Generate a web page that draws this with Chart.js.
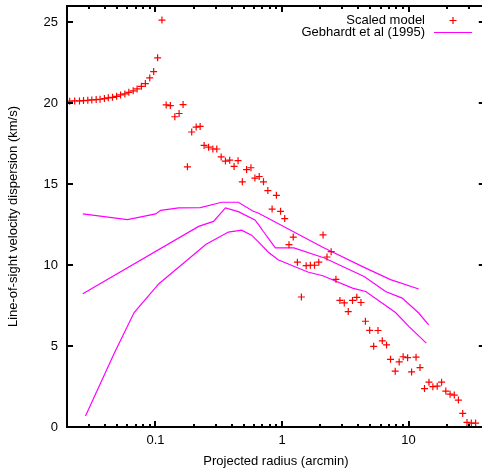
<!DOCTYPE html>
<html>
<head>
<meta charset="utf-8">
<script src="https://cdn.jsdelivr.net/npm/chart.js@4/dist/chart.umd.min.js"></script>
<style>
  html, body { margin: 0; padding: 0; background: #fff; overflow: hidden; }
  #wrap { width: 490px; height: 470px; }
</style>
</head>
<body>
<div id="wrap"><canvas id="sigmaPlot" width="490" height="470"></canvas></div>
<script>
// Scaled model: projected radius (arcmin) and dispersion (km/s)
const modelRadius = [
  0.0210, 0.0230, 0.0251, 0.0270, 0.0292, 0.0314, 0.0340, 0.0365, 0.0395, 0.0424,
  0.0458, 0.0493, 0.0530, 0.0573, 0.0616, 0.0667, 0.0716, 0.0774, 0.0832, 0.0901,
  0.0968, 0.104, 0.1125,
  0.1215, 0.1311, 0.1422, 0.1537, 0.1652, 0.1789, 0.1933, 0.2097, 0.2254, 0.2423,
  0.2628, 0.2840, 0.3052, 0.3305, 0.3572, 0.3860, 0.4180, 0.4494, 0.4857, 0.5248,
  0.5682, 0.6107, 0.6603, 0.7136, 0.7725, 0.8347, 0.9022, 0.9733, 1.050, 1.135,
  1.226, 1.323, 1.422, 1.551, 1.673, 1.805, 1.951, 2.109, 2.266, 2.445,
  2.666, 2.866, 3.103, 3.336, 3.605, 3.896, 4.203, 4.558, 4.925, 5.296,
  5.733, 6.197, 6.697, 7.199, 7.837, 8.424, 9.054, 9.822, 10.56, 11.45,
  12.31, 13.36, 14.48, 15.56, 16.83, 18.22, 19.68, 21.27, 22.95, 24.76,
  26.76, 28.92, 31.31, 33.83
];
const modelSigma = [
  20.12, 20.14, 20.14, 20.16, 20.18, 20.20, 20.22, 20.24, 20.28, 20.33,
  20.36, 20.42, 20.51, 20.57, 20.67, 20.76, 20.88, 21.04, 21.21, 21.56,
  21.95, 22.80, 25.13,
  19.89, 19.85, 19.16, 19.36, 19.91, 16.07, 18.22, 18.52, 18.56, 17.39,
  17.28, 17.17, 17.17, 16.68, 16.42, 16.48, 16.09, 16.45, 15.14, 15.90,
  16.01, 15.37, 15.47, 15.14, 14.60, 13.46, 14.31, 13.32, 12.87, 11.26,
  11.73, 10.18, 8.03, 9.96, 9.99, 9.99, 10.18, 11.86, 10.50, 10.83,
  9.12, 7.82, 7.66, 7.13, 7.82, 8.01, 7.69, 6.53, 5.97, 4.98,
  5.96, 5.32, 5.07, 4.18, 3.45, 4.02, 4.34, 4.28, 3.40, 4.31,
  3.67, 2.37, 2.77, 2.49, 2.52, 2.77, 2.22, 2.03, 1.97, 1.66,
  0.84, 0.28, 0.24, 0.24
];

// Gebhardt et al (1995): upper, middle and lower curves
const gebUpperRadius = [0.02667, 0.06009, 0.1004, 0.1099, 0.1528, 0.2262, 0.3342, 0.4517, 0.5923, 0.6482, 2.097, 4.453, 7.199, 12.02];
const gebUpperSigma  = [13.16, 12.81, 13.16, 13.38, 13.53, 13.55, 13.88, 13.88, 13.32, 13.22, 11.10, 9.86, 9.10, 8.52];

const gebMidRadius = [0.02667, 0.2194, 0.2876, 0.3572, 0.4517, 0.6107, 0.6482, 0.7096, 0.8860, 1.242, 2.162, 4.453, 6.577, 8.892, 12.02, 14.40];
const gebMidSigma  = [8.23, 12.39, 12.70, 13.53, 13.30, 12.79, 12.53, 12.09, 11.06, 11.06, 10.44, 9.30, 8.37, 7.96, 7.04, 6.31];

const gebLowerRadius = [0.02800, 0.04725, 0.06783, 0.1065, 0.2512, 0.3772, 0.4795, 0.5743, 0.6482, 0.7766, 0.9302, 1.599, 2.097, 3.605, 4.584, 7.880, 10.04, 13.79];
const gebLowerSigma  = [0.68, 4.56, 7.07, 8.85, 11.29, 12.04, 12.16, 11.85, 11.45, 10.81, 10.33, 9.57, 9.34, 8.58, 8.37, 7.07, 6.21, 5.18];

const xMajorTicks = [0.1, 1, 10];
const yTicks = [0, 5, 10, 15, 20, 25];

const toPoints = (xs, ys) => xs.map((r, i) => ({ x: r, y: ys[i] }));

const fontFamily = '"Liberation Sans", Arial, sans-serif';

// log-axis tick marks: 2..9 inside each decade plus the decades themselves
function logTickValues(min, max) {
  const vals = [];
  for (let e = -2; e <= 2; e++) {
    for (let m = 1; m <= 9; m++) {
      const v = +(m * Math.pow(10, e)).toPrecision(3);
      if (v >= min && v <= max) vals.push(v);
    }
  }
  return vals;
}

// box border, inward tick marks and the key
const frameTicks = {
  id: 'frameTicks',
  afterDraw(chart) {
    const { ctx, chartArea: a, scales: { x, y } } = chart;
    ctx.save();
    ctx.strokeStyle = '#000';
    ctx.lineWidth = 2;
    ctx.beginPath();
    x.ticks.forEach(t => {
      const px = Math.round(x.getPixelForValue(t.value));
      const len = xMajorTicks.includes(t.value) ? 6 : 3;
      ctx.moveTo(px, a.bottom); ctx.lineTo(px, a.bottom - len);
      ctx.moveTo(px, a.top); ctx.lineTo(px, a.top + len);
    });
    y.ticks.forEach(t => {
      const py = Math.round(y.getPixelForValue(t.value));
      ctx.moveTo(a.left, py); ctx.lineTo(a.left + 6, py);
      ctx.moveTo(a.right, py); ctx.lineTo(a.right - 6, py);
    });
    ctx.stroke();
    ctx.strokeRect(a.left, a.top, a.right - a.left, a.bottom - a.top);

    // key
    const ds = chart.data.datasets;
    ctx.font = '13px ' + fontFamily;
    ctx.fillStyle = '#000';
    ctx.textAlign = 'right';
    ctx.textBaseline = 'alphabetic';
    ctx.fillText(ds[0].label, 425, 24);
    ctx.fillText(ds[1].label, 425, 36);

    ctx.lineWidth = 1.2;
    ctx.strokeStyle = ds[0].borderColor;
    ctx.beginPath();
    ctx.moveTo(449.5, 20.5); ctx.lineTo(456.5, 20.5);
    ctx.moveTo(453, 17); ctx.lineTo(453, 24);
    ctx.stroke();

    ctx.strokeStyle = ds[1].borderColor;
    ctx.beginPath();
    ctx.moveTo(434, 32.5); ctx.lineTo(472, 32.5);
    ctx.stroke();
    ctx.restore();
  }
};

const gebStyle = {
  type: 'line',
  borderColor: '#ff00ff',
  backgroundColor: '#ff00ff',
  borderWidth: 1.2,
  pointRadius: 0,
  fill: false,
  tension: 0
};

new Chart(document.getElementById('sigmaPlot'), {
  type: 'scatter',
  data: {
    datasets: [
      {
        label: 'Scaled model',
        data: toPoints(modelRadius, modelSigma),
        pointStyle: 'cross',
        pointRadius: 3.5,
        borderColor: '#ff0000',
        backgroundColor: '#ff0000',
        borderWidth: 1.2
      },
      { ...gebStyle, label: 'Gebhardt et al (1995)', data: toPoints(gebUpperRadius, gebUpperSigma) },
      { ...gebStyle, label: 'Gebhardt et al (1995) mid', data: toPoints(gebMidRadius, gebMidSigma) },
      { ...gebStyle, label: 'Gebhardt et al (1995) low', data: toPoints(gebLowerRadius, gebLowerSigma) }
    ]
  },
  options: {
    responsive: false,
    animation: false,
    devicePixelRatio: 1,
    layout: { padding: { left: 0, top: 6, right: 2, bottom: 0 } },
    plugins: {
      legend: { display: false },
      tooltip: { enabled: false }
    },
    scales: {
      x: {
        type: 'logarithmic',
        min: 0.02,
        max: 40,
        grid: { display: false, drawTicks: false },
        border: { display: false },
        afterBuildTicks: s => { s.ticks = logTickValues(0.02, 40).map(v => ({ value: v })); },
        afterFit: s => { s.height = 43; s.paddingLeft = 0; s.paddingRight = 0; },
        ticks: {
          autoSkip: false,
          maxRotation: 0,
          padding: 6,
          color: '#000',
          font: { family: fontFamily, size: 13 },
          callback: v => xMajorTicks.includes(v) ? String(v) : ''
        },
        title: {
          display: true,
          text: 'Projected radius (arcmin)',
          color: '#000',
          font: { family: fontFamily, size: 13 },
          padding: { top: 0, bottom: 1 }
        }
      },
      y: {
        min: 0,
        max: 26,
        grid: { display: false, drawTicks: false },
        border: { display: false },
        afterBuildTicks: s => { s.ticks = yTicks.map(v => ({ value: v })); },
        afterFit: s => { s.width = 67; s.paddingTop = 0; s.paddingBottom = 0; },
        ticks: {
          padding: 9,
          color: '#000',
          font: { family: fontFamily, size: 13 }
        },
        title: {
          display: true,
          text: 'Line-of-sight velocity dispersion (km/s)',
          color: '#000',
          font: { family: fontFamily, size: 13 },
          padding: { top: 6, bottom: 0 }
        }
      }
    }
  },
  plugins: [frameTicks]
});
</script>
</body>
</html>
